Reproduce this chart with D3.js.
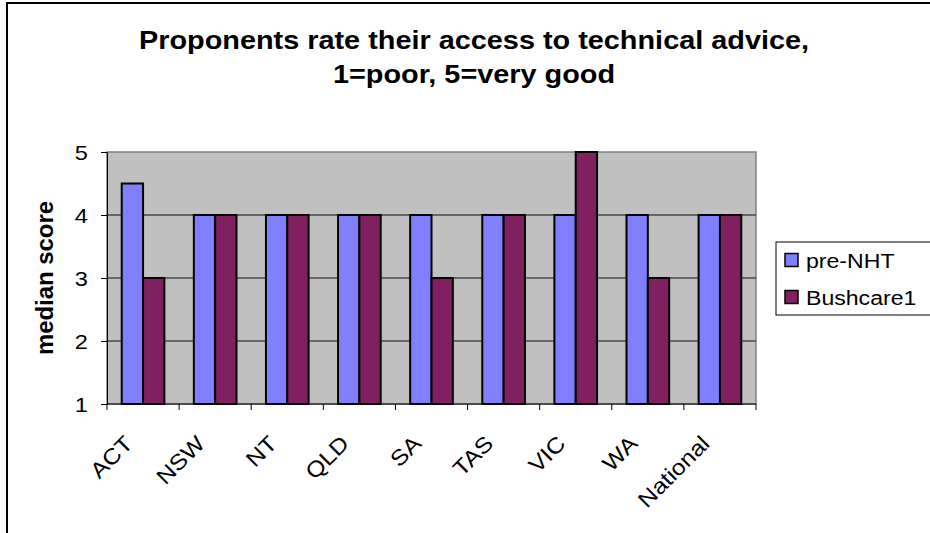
<!DOCTYPE html>
<html>
<head>
<meta charset="utf-8">
<script src="https://cdn.jsdelivr.net/npm/d3@7"></script>
<style>
  body { margin: 0; background: #fff; }
  text { font-family: Arial, "Liberation Sans", sans-serif; fill: #000; }
</style>
</head>
<body>
<svg id="chart" width="930" height="533"></svg>
<script>
// Median scores per region, two survey rounds
const categories = ["ACT", "NSW", "NT", "QLD", "SA", "TAS", "VIC", "WA", "National"];
const seriesNames = ["pre-NHT", "Bushcare1"];
const preNHT = [4.5, 4, 4, 4, 4, 4, 4, 4, 4];
const bushcare1 = [3, 4, 4, 4, 3, 4, 5, 3, 4];
const yTicks = [1, 2, 3, 4, 5];
const titleLines = ["Proponents rate their access to technical advice,", "1=poor, 5=very good"];
const yLabel = "median score";
const colors = ["#8080FF", "#802060"];

const rows = categories.map((c, i) => ({ cat: c, values: [preNHT[i], bushcare1[i]] }));

const svg = d3.select("#chart");
const plot = { left: 107, right: 756, top: 152, bottom: 404 };

// Outer chart frame
svg.append("rect")
  .attr("x", 7).attr("y", 3).attr("width", 1000).attr("height", 1000)
  .attr("fill", "#fff").attr("stroke", "#000").attr("stroke-width", 2);

// Helper: text with slight horizontal widening
function label(parent, x, y, str, opts) {
  const g = parent.append("g")
    .attr("transform", `translate(${x},${y})${opts.rotate ? ` rotate(${opts.rotate})` : ""} scale(${opts.sx || 1},1)`);
  g.append("text")
    .attr("text-anchor", opts.anchor || "start")
    .attr("font-size", opts.size)
    .attr("font-weight", opts.bold ? "bold" : "normal")
    .text(str);
  return g;
}

// Title
titleLines.forEach((t, i) => {
  label(svg, 474, 49 + i * 34, t, { size: 26, bold: true, anchor: "middle", sx: 1.11 });
});

const x0 = d3.scaleBand().domain(categories).range([plot.left, plot.right]).padding(0);
const x1 = d3.scaleBand().domain(seriesNames).range([0, x0.bandwidth()]).paddingInner(0).paddingOuter(0.69);
const y = d3.scaleLinear().domain([1, 5]).range([plot.bottom, plot.top]);

// Plot background
svg.append("rect")
  .attr("x", plot.left).attr("y", plot.top)
  .attr("width", plot.right - plot.left).attr("height", plot.bottom - plot.top)
  .attr("fill", "#C0C0C0").attr("stroke", "#808080").attr("stroke-width", 1.5);

// Gridlines
svg.append("g").selectAll("line")
  .data(yTicks.filter(d => d > 1 && d < 5))
  .join("line")
  .attr("x1", plot.left).attr("x2", plot.right)
  .attr("y1", d => y(d)).attr("y2", d => y(d))
  .attr("stroke", "#4a4a4a").attr("stroke-width", 1.3);

// Bars
const groups = svg.append("g").selectAll("g")
  .data(rows).join("g")
  .attr("transform", d => `translate(${x0(d.cat)},0)`);
groups.selectAll("rect")
  .data(d => d.values.map((v, i) => ({ key: seriesNames[i], v, i })))
  .join("rect")
  .attr("x", d => x1(d.key))
  .attr("y", d => y(d.v))
  .attr("width", x1.bandwidth())
  .attr("height", d => y(1) - y(d.v))
  .attr("fill", d => colors[d.i])
  .attr("stroke", "#000").attr("stroke-width", 2);

// Y axis
const yAxis = svg.append("g")
  .attr("transform", `translate(${plot.left},0)`)
  .call(d3.axisLeft(y).tickValues(yTicks).tickSize(6).tickFormat(() => ""));
yAxis.select(".domain").attr("stroke", "#000");
yAxis.selectAll(".tick line").attr("stroke", "#000");
yTicks.forEach(t => label(svg, 88, y(t) + 7.5, String(t), { size: 20, anchor: "end", sx: 1.18 }));

// X axis with ticks at category boundaries
const boundaries = categories.map(c => x0(c)).concat([plot.right]);
svg.append("line")
  .attr("x1", plot.left).attr("x2", plot.right)
  .attr("y1", plot.bottom).attr("y2", plot.bottom)
  .attr("stroke", "#000");
svg.append("g").selectAll("line")
  .data(boundaries).join("line")
  .attr("x1", d => d).attr("x2", d => d)
  .attr("y1", plot.bottom).attr("y2", plot.bottom + 6)
  .attr("stroke", "#000");

categories.forEach(c => {
  label(svg, x0(c) + x0.bandwidth() / 2 - 9, plot.bottom + 41, c, { size: 22, anchor: "end", rotate: -45, sx: 1.12 });
});

// Y axis title
label(svg, 53, (plot.top + plot.bottom) / 2, yLabel, { size: 23, bold: true, anchor: "middle", rotate: -90, sx: 1.04 });

// Legend
const legend = svg.append("g");
legend.append("rect")
  .attr("x", 776).attr("y", 242).attr("width", 300).attr("height", 73)
  .attr("fill", "#fff").attr("stroke", "#000").attr("stroke-width", 1);
seriesNames.forEach((s, i) => {
  const cy = 260 + i * 37;
  legend.append("rect")
    .attr("x", 785).attr("y", cy - 6.5).attr("width", 13).attr("height", 13)
    .attr("fill", colors[i]).attr("stroke", "#000").attr("stroke-width", 1.5);
  label(legend, 806, cy + 7.5, s, { size: 21, sx: 1.1 });
});
</script>
</body>
</html>
